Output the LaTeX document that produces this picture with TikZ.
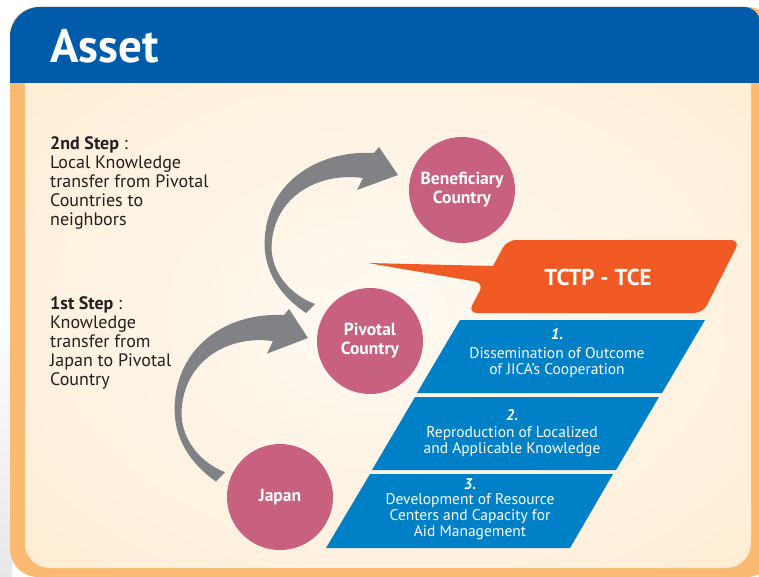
\documentclass[tikz,border=0pt]{standalone}
\usepackage{fontspec}
\setmainfont{PT Sans}

\definecolor{headblue}{HTML}{005BAA}
\definecolor{frameorange}{HTML}{FBBA72}
\definecolor{creamin}{HTML}{FFFAF3}
\definecolor{creammid}{HTML}{FEF1DE}
\definecolor{creamout}{HTML}{FDE2B6}
\definecolor{rose}{HTML}{C8607F}
\definecolor{arrowgray}{HTML}{808285}
\definecolor{tcered}{HTML}{F15A24}
\definecolor{boxblue}{HTML}{0080C6}
\definecolor{inkdark}{HTML}{231F20}

% soft glow of the cream panel
\pgfdeclareradialshading{panelglow}{\pgfpoint{0bp}{0bp}}{color(0bp)=(creamin); color(25bp)=(creammid); color(62bp)=(creamout); color(100bp)=(creamout)}

\begin{document}
\begin{tikzpicture}[x=1pt,y=-1pt,
  country/.style={circle,fill=rose,minimum size=106pt,inner sep=0pt,align=center,text=white,font=\fontsize{17.5}{19}\selectfont\bfseries},
  steptext/.style={anchor=north west,align=left,inner sep=0pt,text=inkdark,font=\fontsize{18}{19}\selectfont},
  outcome/.style={anchor=north,align=center,inner sep=0pt,text=white,font=\fontsize{15.5}{16}\selectfont},
  turnarrow/.pic={
    \fill[arrowgray] (-92,138) .. controls (-123,117) and (-136,90) .. (-133,60)
      .. controls (-128,5) and (-78,-25) .. (-24,-22) -- (-19,-28) -- (0,0) -- (-41,15) -- (-35,3)
      .. controls (-78,-3) and (-121,20) .. (-126,65)
      .. controls (-130,95) and (-108,120) .. (-83,129) -- cycle;
  }]
\useasboundingbox (0,0) rectangle (759,577);
\clip (0,0) rectangle (759,577);

% page and frame
\fill[white] (0,0) rectangle (759,577);
\shade[top color=white,bottom color=black!9] (0,300) rectangle (12,577);
\fill[frameorange,rounded corners=28] (10,7) rectangle (775,577);
\shade[shading=panelglow,rounded corners=25] (25,60) rectangle (751,568);
\fill[headblue] (10,83) -- (10,37) arc[start angle=180,end angle=270,radius=30]
  -- (744,7) arc[start angle=270,end angle=360,radius=16] -- (760,83) -- cycle;
\node[anchor=base west,inner sep=0pt,text=white,font=\fontsize{47}{47}\selectfont\bfseries] (title) at (50,63) {Asset};

% steps
\node[steptext] (second) at (50,136) {\textbf{2nd Step} :\\Local Knowledge\\transfer from Pivotal\\Countries to\\neighbors};
\node[steptext] (first) at (50,296) {\textbf{1st Step} :\\Knowledge\\transfer from\\Japan to Pivotal\\Country};

% countries
\node[country] (benef) at (462,190) {Beneficiary\\Country};
\node[country] (pivot) at (370,341) {Pivotal\\Country};
\node[country] (japan) at (280,497) {Japan};

\pic at ([shift={(-64,-15)}]benef.center) {turnarrow};
\pic[yscale=1.04] at ([shift={(-62,-3)}]pivot.center) {turnarrow};

% TCTP - TCE callout
\fill[tcered] (368,263) -- (493,266) [rounded corners=9] -- (507,240) -- (740,240) -- (703,313)
  -- (468,313) -- (484,283) [sharp corners] -- cycle;
\node[text=white,font=\fontsize{23}{23}\selectfont\bfseries] (tctp) at (598,277) {TCTP - TCE};

% outcomes
\fill[boxblue] (460,320) -- (705,320) -- (662,393) -- (417,393) -- cycle;
\fill[boxblue] (415,397) -- (659,397) -- (616,470) -- (372,470) -- cycle;
\fill[boxblue] (370,474) -- (613,474) -- (570,548) -- (326,548) -- cycle;
\node[outcome] (out1) at (557,328) {\textbf{\textit{1.}}\\[3pt]Dissemination of Outcome\\of JICA's Cooperation};
\node[outcome] (out2) at (512,409) {\textbf{\textit{2.}}\\[1pt]Reproduction of Localized\\and Applicable Knowledge};
\node[outcome] (out3) at (470,478) {\textbf{\textit{3.}}\\[-1pt]Development of Resource\\Centers and Capacity for\\Aid Management};
\end{tikzpicture}
\end{document}
